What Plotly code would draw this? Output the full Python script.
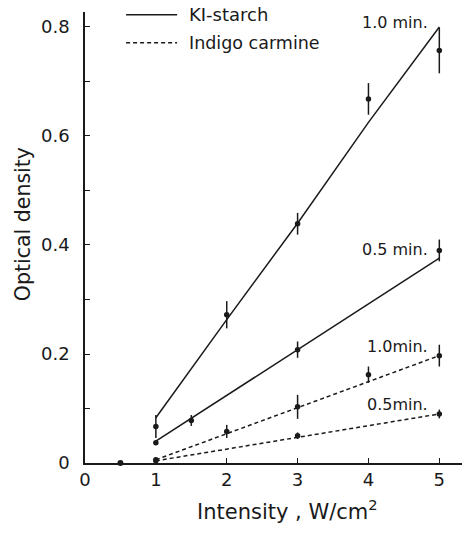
import plotly.graph_objects as go

# ---------------- data ----------------
ki10_x = [1, 2, 3, 4, 5]
ki10_y = [0.067, 0.272, 0.439, 0.668, 0.757]
ki10_err = [0.021, 0.025, 0.020, 0.029, 0.042]
ki10_fit_x = [1, 2, 3, 4, 5]
ki10_fit_y = [0.083, 0.263, 0.440, 0.625, 0.800]

ki05_x = [1, 1.5, 3, 5]
ki05_y = [0.037, 0.078, 0.208, 0.390]
ki05_err = [0.004, 0.010, 0.015, 0.020]
ki05_fit_x = [1, 3, 5]
ki05_fit_y = [0.040, 0.208, 0.376]

ic10_x = [1, 2, 3, 4, 5]
ic10_y = [0.006, 0.058, 0.103, 0.162, 0.197]
ic10_err = [0.004, 0.012, 0.022, 0.015, 0.020]
ic10_fit_x = [1, 5]
ic10_fit_y = [0.006, 0.197]

ic05_x = [1, 3, 5]
ic05_y = [0.004, 0.050, 0.090]
ic05_err = [0.003, 0.006, 0.008]
ic05_fit_x = [1, 5]
ic05_fit_y = [0.004, 0.090]

zero_x = [0.5]
zero_y = [0.0]

y_tickvals = [0, 0.2, 0.4, 0.6, 0.8]
y_ticktext = ["0", "0.2", "0.4", "0.6", "0.8"]
y_minor_vals = [0.1, 0.3, 0.5, 0.7]
x_tickvals = [0, 1, 2, 3, 4, 5]
x_ticktext = ["0", "1", "2", "3", "4", "5"]

curve_labels = ["1.0 min.", "0.5 min.", "1.0min.", "0.5min."]
curve_label_y = [0.808, 0.391, 0.213, 0.107]

INK = "#1a1a1a"
FONT = "DejaVu Sans"

fig = go.Figure()

def add_series(x, y, err, fx, fy, dash):
    fig.add_trace(go.Scatter(x=fx, y=fy, mode="lines",
                             line=dict(color=INK, width=1.5, dash=dash),
                             showlegend=False, hoverinfo="skip"))
    fig.add_trace(go.Scatter(x=x, y=y, mode="markers",
                             marker=dict(color=INK, size=5.5),
                             error_y=dict(type="data", array=err, color=INK,
                                          thickness=1.5, width=0),
                             showlegend=False))

add_series(ki10_x, ki10_y, ki10_err, ki10_fit_x, ki10_fit_y, "solid")
add_series(ki05_x, ki05_y, ki05_err, ki05_fit_x, ki05_fit_y, "solid")
add_series(ic10_x, ic10_y, ic10_err, ic10_fit_x, ic10_fit_y, "4px,3px")
add_series(ic05_x, ic05_y, ic05_err, ic05_fit_x, ic05_fit_y, "4px,3px")

fig.add_trace(go.Scatter(x=zero_x, y=zero_y, mode="markers",
                         marker=dict(color=INK, size=6), showlegend=False,
                         cliponaxis=False))

# curve labels
for t, yy in zip(curve_labels, curve_label_y):
    fig.add_annotation(x=4.87, y=yy, xref="x", yref="y", text=t,
                       showarrow=False, xanchor="right", yanchor="middle",
                       font=dict(family=FONT, size=16, color=INK))

# legend (drawn manually)
fig.add_shape(type="line", xref="x", yref="y", x0=0.58, x1=1.30,
              y0=0.8226, y1=0.8226, line=dict(color=INK, width=1.5))
fig.add_shape(type="line", xref="x", yref="y", x0=0.58, x1=1.30,
              y0=0.771, y1=0.771, line=dict(color=INK, width=1.5, dash="4px,3px"))
fig.add_annotation(x=1.44, y=0.8226, xref="x", yref="y", text="KI-starch",
                   showarrow=False, xanchor="left", yanchor="middle",
                   font=dict(family=FONT, size=18, color=INK))
fig.add_annotation(x=1.44, y=0.771, xref="x", yref="y", text="Indigo carmine",
                   showarrow=False, xanchor="left", yanchor="middle",
                   font=dict(family=FONT, size=17.5, color=INK))

# axis titles
fig.add_annotation(x=0.536, y=-0.104, xref="paper", yref="paper",
                   text="Intensity , W/cm<sup>2</sup>", showarrow=False,
                   xanchor="center", yanchor="middle",
                   font=dict(family=FONT, size=21, color=INK))
fig.add_annotation(x=-0.164, y=0.53, xref="paper", yref="paper",
                   text="Optical density", showarrow=False, textangle=-90,
                   xanchor="center", yanchor="middle",
                   font=dict(family=FONT, size=20.5, color=INK))

fig.update_layout(
    width=463, height=545,
    margin=dict(l=85, r=1, t=12, b=82),
    paper_bgcolor="white", plot_bgcolor="white",
    font=dict(family=FONT, size=18, color=INK),
    showlegend=False,
)
fig.update_xaxes(range=[0, 5.32], showgrid=False, zeroline=False,
                 showline=True, linecolor=INK, linewidth=1.6,
                 ticks="inside", ticklen=5, tickwidth=1.4, tickcolor=INK,
                 tickvals=x_tickvals, ticktext=x_ticktext,
                 tickfont=dict(family=FONT, size=18, color=INK))
fig.update_yaxes(range=[0, 0.8275], showgrid=False, zeroline=False,
                 showline=True, linecolor=INK, linewidth=1.6,
                 ticks="inside", ticklen=5, tickwidth=1.4, tickcolor=INK,
                 tickvals=y_tickvals, ticktext=y_ticktext,
                 minor=dict(tickvals=y_minor_vals, ticks="inside", ticklen=5,
                            tickwidth=1.4, tickcolor=INK, showgrid=False),
                 ticklabelstandoff=10,
                 tickfont=dict(family=FONT, size=18, color=INK))

fig.write_html("out.html")
